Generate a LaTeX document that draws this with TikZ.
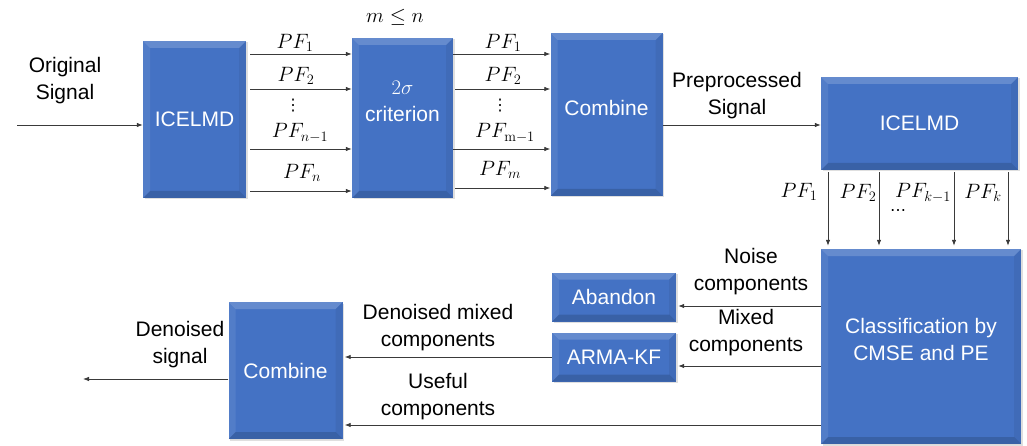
\documentclass[tikz,border=0pt]{standalone}
\usepackage[no-math]{fontspec}
\setmainfont{Liberation Sans}
\newfontfamily\symfont{DejaVu Sans}
\usetikzlibrary{arrows.meta,shadows}
\begin{document}
\begin{tikzpicture}[x=1pt,y=-1pt,font=\fontsize{21}{27}\selectfont]
\definecolor{cblue}{HTML}{4472C4}\definecolor{cline}{HTML}{3A3A3A}
\tikzset{block/.style={fill=cblue,text=white,align=center,inner sep=0,
  drop shadow={opacity=.25,shadow xshift=1.5pt,shadow yshift=-1.5pt},
  path picture={
   \fill[white,opacity=.18] (path picture bounding box.north west) -- (path picture bounding box.north east)
     -- ([xshift=-7pt,yshift=-7pt]path picture bounding box.north east) -- ([xshift=7pt,yshift=-7pt]path picture bounding box.north west) -- cycle;
   \fill[white,opacity=.08] (path picture bounding box.north west) -- (path picture bounding box.south west)
     -- ([xshift=7pt,yshift=7pt]path picture bounding box.south west) -- ([xshift=7pt,yshift=-7pt]path picture bounding box.north west) -- cycle;
   \fill[black,opacity=.15] (path picture bounding box.south west) -- (path picture bounding box.south east)
     -- ([xshift=-7pt,yshift=7pt]path picture bounding box.south east) -- ([xshift=7pt,yshift=7pt]path picture bounding box.south west) -- cycle;
   \fill[black,opacity=.06] (path picture bounding box.north east) -- (path picture bounding box.south east)
     -- ([xshift=-7pt,yshift=7pt]path picture bounding box.south east) -- ([xshift=-7pt,yshift=-7pt]path picture bounding box.north east) -- cycle;}},
 blocktext/.style={text=white,align=center,inner sep=0},
 lbl/.style={align=center,inner sep=0},
 dots/.style={inner sep=0,font=\symfont\fontsize{16}{16}\selectfont},
 arr/.style={draw=cline,line width=0.8pt,-{Latex[length=6pt,width=4.5pt]}}}
\useasboundingbox (0,0) rectangle (1027,446);
% blocks
\node[block,minimum width=103pt,minimum height=157pt] (ice1) at (194.5,119.5) {ICELMD};
\node[block,minimum width=101pt,minimum height=160pt] (crit) at (402.5,118) {};
\node[blocktext] (critt) at (402.5,101) {$2\sigma$\\criterion};
\node[block,minimum width=112pt,minimum height=163pt] (comb1) at (606.5,114.5) {};
\node[blocktext] (comb1t) at (606.5,108) {Combine};
\node[block,minimum width=197pt,minimum height=93pt] (ice2) at (919.5,123.5) {ICELMD};
\node[block,minimum width=200pt,minimum height=195pt] (cls) at (921,346.5) {};
\node[blocktext] (clst) at (921,339) {Classification by\\CMSE and PE};
\node[block,minimum width=124pt,minimum height=49pt] (aband) at (614,297) {Abandon};
\node[block,minimum width=124pt,minimum height=49pt] (arma) at (614,357) {ARMA-KF};
\node[block,minimum width=114pt,minimum height=137pt] (comb2) at (285.5,370.5) {Combine};
% labels
\node[lbl] (orig) at (65,81) {Original\\Signal};
\node[lbl] (mlen) at (395,17) {$m\leq n$};
\node[lbl] (pre) at (737,96) {Preprocessed\\Signal};
\node[lbl] (noise) at (751,272) {Noise\\components};
\node[lbl] (mixed) at (746,333) {Mixed\\components};
\node[lbl] (dmix) at (438,328) {Denoised mixed\\components};
\node[lbl] (useful) at (438,397) {Useful\\components};
\node[lbl] (dsig) at (180,345) {Denoised\\signal};
\node[lbl] (pfa1) at (295,43) {$PF_1$};
\node[lbl] (pfa2) at (296,76) {$PF_2$};
\node[dots] (dota) at (293,106) {⋮};
\node[lbl] (pfa3) at (300,133) {$PF_{n-1}$};
\node[lbl] (pfa4) at (302,173) {$PF_n$};
\node[lbl] (pfb1) at (503,43) {$PF_1$};
\node[lbl] (pfb2) at (503,76) {$PF_2$};
\node[dots] (dotb) at (500,106) {⋮};
\node[lbl] (pfb3) at (505,133) {$PF_{\mathrm{m}-1}$};
\node[lbl] (pfb4) at (500,170) {$PF_m$};
\node[lbl] (pfc1) at (799,192) {$PF_1$};
\node[lbl] (pfc2) at (858,193) {$PF_2$};
\node[lbl] (pfc3) at (923,193) {$PF_{k-1}$};
\node[dots] (dotc) at (898,211) {…};
\node[lbl] (pfc4) at (983,193) {$PF_k$};
\coordinate (in) at (17,125);
\coordinate (out) at (83,379);
% connectors
\draw[arr] (in) -- (ice1.west |- in);
\draw[arr,shorten <=4pt] (ice1.east |- 0,54) -- (crit.west |- 0,54);
\draw[arr,shorten <=4pt] (ice1.east |- 0,89) -- (crit.west |- 0,89);
\draw[arr,shorten <=4pt] (ice1.east |- 0,149) -- (crit.west |- 0,149);
\draw[arr,shorten <=4pt] (ice1.east |- 0,191) -- (crit.west |- 0,191);
\draw[arr] (crit.east |- 0,54) -- (comb1.west |- 0,54);
\draw[arr,shorten <=2pt] (crit.east |- 0,89) -- (comb1.west |- 0,89);
\draw[arr] (crit.east |- 0,149) -- (comb1.west |- 0,149);
\draw[arr,shorten <=2pt] (crit.east |- 0,188) -- (comb1.west |- 0,188);
\draw[arr] (comb1.east |- 0,125) -- (ice2.west |- 0,125);
\draw[arr,shorten <=2pt,shorten >=3pt] (ice2.south -| 828,0) -- (cls.north -| 828,0);
\draw[arr,shorten <=2pt,shorten >=3pt] (ice2.south -| 879,0) -- (cls.north -| 879,0);
\draw[arr,shorten <=2pt,shorten >=3pt] (ice2.south -| 954,0) -- (cls.north -| 954,0);
\draw[arr,shorten <=2pt,shorten >=3pt] (ice2.south -| 1008,0) -- (cls.north -| 1008,0);
\draw[arr,shorten >=2pt] (cls.west |- 0,306) -- (aband.east |- 0,306);
\draw[arr,shorten >=2pt] (cls.west |- 0,366) -- (arma.east |- 0,366);
\draw[arr,shorten >=2pt] (arma.west) -- (comb2.east |- arma.west);
\draw[arr,shorten >=2pt] (cls.west |- 0,425) -- (comb2.east |- 0,425);
\draw[arr] (comb2.west |- out) -- (out);
\end{tikzpicture}
\end{document}
